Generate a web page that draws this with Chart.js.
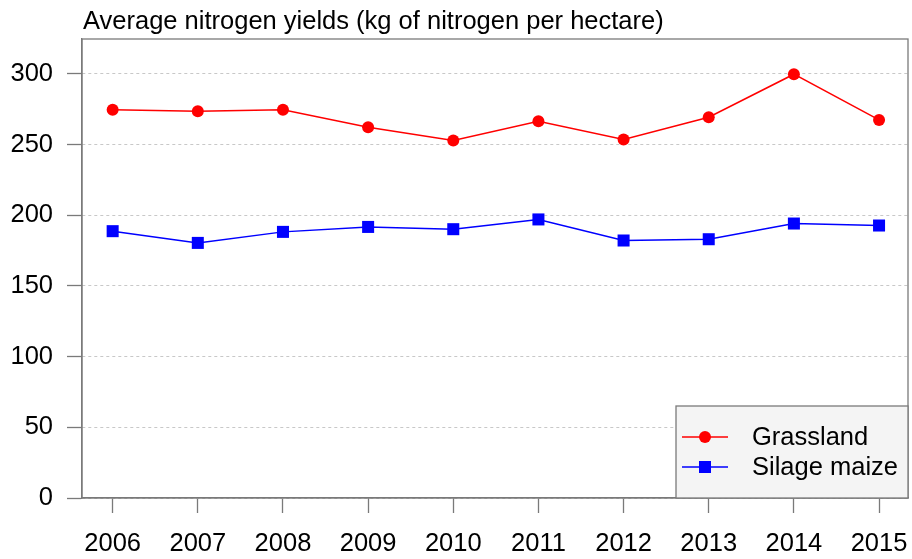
<!DOCTYPE html>
<html>
<head>
<meta charset="utf-8">
<script src="https://cdn.jsdelivr.net/npm/chart.js@4/dist/chart.umd.min.js"></script>
<style>
html,body{margin:0;padding:0;background:#fff;}
#wrap{width:912px;height:559px;position:relative;}
</style>
</head>
<body>
<div id="wrap"><canvas id="c" width="912" height="559"></canvas></div>
<script>
const years = ['2006','2007','2008','2009','2010','2011','2012','2013','2014','2015'];
const grassland = [274.5, 273.5, 274.5, 262.2, 252.8, 266.5, 253.5, 269.3, 299.7, 267.4];
const silageMaize = [188.7, 180.4, 188.2, 191.7, 190.1, 197.0, 182.1, 183.0, 194.1, 192.7];
const yTicks = [0, 50, 100, 150, 200, 250, 300];
const titleText = 'Average nitrogen yields (kg of nitrogen per hectare)';
const seriesNames = ['Grassland', 'Silage maize'];

const FONT = 'Liberation Sans, Arial, sans-serif';
const FS = 25.5;
const AXIS = '#7a7a7a';

const toPoints = arr => arr.map((v, i) => ({x: i, y: v}));

const decor = {
  id: 'decor',
  afterDraw(chart) {
    const {ctx, chartArea: a} = chart;
    ctx.save();
    ctx.strokeStyle = AXIS;
    ctx.lineWidth = 1.3;
    ctx.strokeRect(a.left, a.top, a.right - a.left, a.bottom - a.top);
    ctx.fillStyle = '#000';
    ctx.font = FS + 'px ' + FONT;
    ctx.textBaseline = 'alphabetic';
    ctx.textAlign = 'left';
    ctx.fillText(titleText, 83, 29);
    const lx = 676, ly = 406, lw = a.right - 676, lh = a.bottom - 406;
    ctx.fillStyle = '#f4f4f4';
    ctx.fillRect(lx, ly, lw, lh);
    ctx.strokeStyle = AXIS;
    ctx.lineWidth = 1.3;
    ctx.strokeRect(lx, ly, lw, lh);
    const rows = [437, 467];
    chart.data.datasets.forEach((ds, i) => {
      const y = rows[i];
      ctx.strokeStyle = ds.borderColor;
      ctx.lineWidth = 1.5;
      ctx.beginPath();
      ctx.moveTo(682, y);
      ctx.lineTo(728, y);
      ctx.stroke();
      ctx.fillStyle = ds.pointBackgroundColor;
      if (ds.pointStyle === 'rect') {
        ctx.fillRect(705 - 6, y - 6, 12, 12);
      } else {
        ctx.beginPath();
        ctx.arc(705, y, 6, 0, Math.PI * 2);
        ctx.fill();
      }
      ctx.fillStyle = '#000';
      ctx.font = FS + 'px ' + FONT;
      ctx.textBaseline = 'middle';
      ctx.fillText(ds.label, 752, y + 1);
    });
    ctx.restore();
  }
};

new Chart(document.getElementById('c'), {
  type: 'line',
  data: {
    datasets: [
      {
        label: seriesNames[0],
        data: toPoints(grassland),
        borderColor: '#ff0000',
        backgroundColor: '#ff0000',
        pointBackgroundColor: '#ff0000',
        pointBorderColor: '#ff0000',
        pointStyle: 'circle',
        pointRadius: 6,
        pointBorderWidth: 0,
        borderWidth: 1.5,
        tension: 0
      },
      {
        label: seriesNames[1],
        data: toPoints(silageMaize),
        borderColor: '#0000ff',
        backgroundColor: '#0000ff',
        pointBackgroundColor: '#0000ff',
        pointBorderColor: '#0000ff',
        pointStyle: 'rect',
        pointRadius: 8.5,
        pointBorderWidth: 0,
        borderWidth: 1.5,
        tension: 0
      }
    ]
  },
  options: {
    responsive: false,
    animation: false,
    events: [],
    layout: {autoPadding: false, padding: {left: 0, right: 4, top: 39, bottom: 0}},
    plugins: {legend: {display: false}, title: {display: false}, tooltip: {enabled: false}},
    scales: {
      x: {
        type: 'linear',
        min: -0.36,
        max: 9.34,
        afterBuildTicks: s => { s.ticks = years.map((y, i) => ({value: i})); },
        afterFit: s => { s.height = 61; s.paddingLeft = 0; s.paddingRight = 0; },
        ticks: {
          callback: (v) => years[v] !== undefined ? years[v] : '',
          color: '#000',
          font: {family: FONT, size: FS},
          padding: 16,
          maxRotation: 0,
          autoSkip: false
        },
        grid: {drawOnChartArea: false, drawTicks: true, tickLength: 15, tickColor: AXIS, tickWidth: 1.3},
        border: {display: true, color: AXIS, width: 1.3}
      },
      y: {
        type: 'linear',
        min: 0,
        max: 324.6,
        afterBuildTicks: s => { s.ticks = yTicks.map(v => ({value: v})); },
        afterFit: s => { s.width = 82; s.paddingTop = 0; s.paddingBottom = 0; },
        ticks: {
          color: '#000',
          font: {family: FONT, size: FS},
          padding: 14
        },
        grid: {color: '#c8c8c8', lineWidth: 1, drawTicks: true, tickLength: 15, tickColor: AXIS, tickWidth: 1.3},
        border: {display: true, color: AXIS, width: 1.3, dash: [3, 3]}
      }
    }
  },
  plugins: [decor]
});
</script>
</body>
</html>
